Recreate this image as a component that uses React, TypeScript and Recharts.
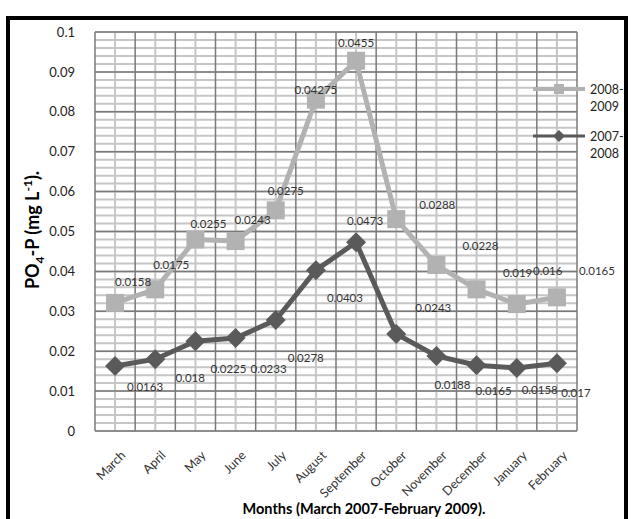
import React from 'react';
import { LineChart, Line, XAxis, YAxis, CartesianGrid, LabelList } from 'recharts';

const months = ['March', 'April', 'May', 'June', 'July', 'August', 'September', 'October', 'November', 'December', 'January', 'February'];
const values0708 = [0.0163, 0.018, 0.0225, 0.0233, 0.0278, 0.0403, 0.0473, 0.0243, 0.0188, 0.0165, 0.0158, 0.017];
const values0809 = [0.0158, 0.0175, 0.0255, 0.0243, 0.0275, 0.04275, 0.0455, 0.0288, 0.0228, 0.019, 0.016, 0.0165];
const yTicks = [0, 0.01, 0.02, 0.03, 0.04, 0.05, 0.06, 0.07, 0.08, 0.09, 0.1];

// the 2008-2009 line is stacked on top of 2007-2008 (as in the original sheet)
const chartData = months.map((month, i) => ({
  idx: i,
  month,
  v0708: values0708[i],
  v0809: values0809[i],
  stacked: values0708[i] + values0809[i],
}));

// label placement relative to each point (the original labels were dragged around by hand)
const lightLabelOffsets = [[18, -21], [16, -25], [13, -16], [17, -22], [10, -20], [0, -10], [0, -18], [41, -15], [44, -20], [41, -17], [31, -34], [40, -27]];
const darkLabelOffsets = [[30, 21], [35, 18], [33, 27], [33, 30], [30, 37], [29, 27], [9, -22], [37, -27], [16, 29], [17, 25], [23, 22], [19, 29]];

const LIGHT = '#b2b2b2';
const DARK = '#5a5a5a';
const FONT = 'Lato, "Open Sans", sans-serif';

const minorH: number[] = [];
for (let k = 0; k <= 50; k++) minorH.push(Math.round(k * 0.002 * 1000) / 1000);
const minorV = months.map((_, i) => i);
const majorV = [...months.map((_, i) => i - 0.5), 11.5];

const SquareDot = (props: any) => {
  const { cx, cy } = props;
  if (cx == null || cy == null) return null;
  return <rect x={cx - 9} y={cy - 9} width={18} height={18} fill={LIGHT} />;
};

const DiamondDot = (props: any) => {
  const { cx, cy } = props;
  if (cx == null || cy == null) return null;
  const r = 10;
  return <polygon points={`${cx},${cy - r} ${cx + r},${cy} ${cx},${cy + r} ${cx - r},${cy}`} fill={DARK} />;
};

const makeLabel = (offsets: number[][]) => (props: any) => {
  const { x, y, value, index } = props;
  const off = offsets[index] || [0, -15];
  return (
    <text x={x + off[0]} y={y + off[1]} textAnchor="middle" dominantBaseline="central" fontSize={11.5} fill="#333" fontFamily={FONT}>
      {value}
    </text>
  );
};

const MonthTick = (props: any) => {
  const { x, y, payload } = props;
  return (
    <g transform={`translate(${x + 5},${y + 11})`}>
      <text x={0} y={0} dy="0.7em" textAnchor="end" transform="rotate(-45)" fontSize={12.5} fill="#333" fontFamily={FONT}>
        {months[payload.value]}
      </text>
    </g>
  );
};

const YTitle = () => (
  <text transform="translate(39,230) rotate(-90)" textAnchor="middle" fontWeight="bold" fontSize={18} fill="#000" fontFamily={FONT}>
    PO<tspan dy={5} fontSize={12}>4</tspan>
    <tspan dy={-5}>-P (mg L</tspan>
    <tspan dy={-7} fontSize={12}>-1</tspan>
    <tspan dy={7}>).</tspan>
  </text>
);

const XTitle = () => (
  <text x={364} y={514} textAnchor="middle" fontWeight="bold" fontSize={14.5} fill="#000" fontFamily={FONT}>
    Months (March 2007-February 2009).
  </text>
);

const LegendBox = () => (
  <svg width={633} height={519} style={{ position: 'absolute', left: 0, top: 0, pointerEvents: 'none' }}>
    <line x1={533} y1={89} x2={585} y2={89} stroke={LIGHT} strokeWidth={4} />
    <rect x={554} y={84} width={10} height={10} fill={LIGHT} />
    <text x={590} y={89} dominantBaseline="central" fontSize={12.5} fill="#222" fontFamily={FONT}>2008-</text>
    <text x={590} y={106} dominantBaseline="central" fontSize={12.5} fill="#222" fontFamily={FONT}>2009</text>
    <line x1={533} y1={136} x2={585} y2={136} stroke={DARK} strokeWidth={3} />
    <polygon points="559,130 565,136 559,142 553,136" fill={DARK} />
    <text x={590} y={136} dominantBaseline="central" fontSize={12.5} fill="#222" fontFamily={FONT}>2007-</text>
    <text x={590} y={153} dominantBaseline="central" fontSize={12.5} fill="#222" fontFamily={FONT}>2008</text>
  </svg>
);

export default function App() {
  return (
    <div style={{ position: 'absolute', left: 0, top: 0, width: 633, height: 519, background: '#fff', overflow: 'hidden', fontFamily: FONT }}>
      <div style={{ position: 'absolute', left: 6, top: 16, width: 622, height: 503, borderTop: '4px solid #000', borderLeft: '4px solid #000', borderRight: '4px solid #000', boxSizing: 'border-box' }} />
      <LineChart width={633} height={519} data={chartData} margin={{ top: 32, right: 56, bottom: 28, left: 35 }}>
        <CartesianGrid horizontalValues={minorH} verticalValues={minorV} stroke="#c6c6c6" strokeWidth={2} />
        <CartesianGrid horizontalValues={yTicks} verticalValues={majorV} stroke="#7a7a7a" strokeWidth={1.5} />
        <XAxis
          dataKey="idx"
          type="number"
          domain={[-0.5, 11.5]}
          ticks={minorV}
          interval={0}
          tick={<MonthTick />}
          tickLine={false}
          axisLine={false}
          height={60}
          label={<XTitle />}
        />
        <YAxis
          type="number"
          domain={[0, 0.1]}
          ticks={yTicks}
          interval={0}
          width={60}
          tickLine={false}
          axisLine={false}
          tickMargin={14}
          tick={{ fontSize: 13, fill: '#222', fontFamily: FONT }}
          label={<YTitle />}
        />
        <Line
          dataKey="stacked"
          stroke={LIGHT}
          strokeWidth={5}
          dot={<SquareDot />}
          activeDot={false}
          isAnimationActive={false}
        >
          <LabelList dataKey="v0809" content={makeLabel(lightLabelOffsets)} />
        </Line>
        <Line
          dataKey="v0708"
          stroke={DARK}
          strokeWidth={5}
          dot={<DiamondDot />}
          activeDot={false}
          isAnimationActive={false}
        >
          <LabelList dataKey="v0708" content={makeLabel(darkLabelOffsets)} />
        </Line>
      </LineChart>
      <LegendBox />
    </div>
  );
}
